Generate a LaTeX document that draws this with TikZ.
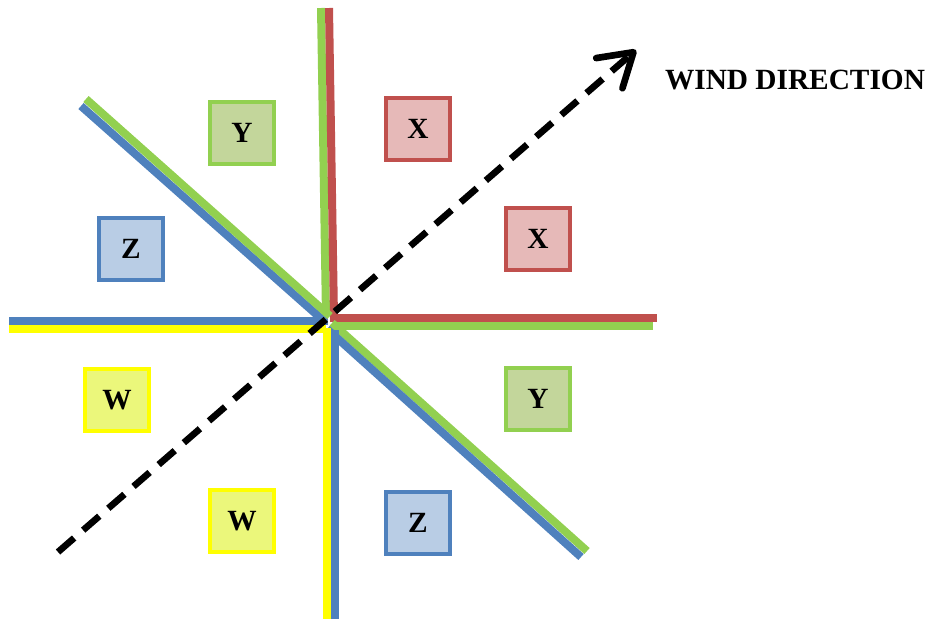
\documentclass[tikz,border=0pt]{standalone}
\usepackage{fontspec}
\setmainfont{Liberation Serif}
\usepackage{tikz}
\usetikzlibrary{arrows.meta, positioning}
\usepackage{xcolor}
\definecolor{lgreen}{HTML}{92D050}
\definecolor{lred}{HTML}{C0504D}
\definecolor{lblue}{HTML}{4F81BD}
\definecolor{lyellow}{HTML}{FFFF00}
\definecolor{fgreen}{HTML}{C3D69B}
\definecolor{fred}{HTML}{E6B9B8}
\definecolor{fblue}{HTML}{B9CDE5}
\definecolor{fyellow}{HTML}{EBF77B}
\tikzstyle{sector} = [line width=6pt]
\tikzstyle{zonebox} = [rectangle, line width=3pt, minimum width=48pt, minimum height=47pt, inner sep=0pt, font=\fontsize{22}{26}\selectfont\bfseries]

\begin{document}
\begin{tikzpicture}[x=0.75pt, y=-0.75pt]
    \useasboundingbox (0,0) rectangle (931,619);

    % Line end points
    \coordinate (gtop) at (321,8);    \coordinate (gtopc) at (326,316);
    \coordinate (rtop) at (329,8);    \coordinate (rtopc) at (334,318);
    \coordinate (rright) at (657,318); \coordinate (rrightc) at (330,318);
    \coordinate (gright) at (653,326); \coordinate (grightc) at (334,326);
    \coordinate (ybot) at (327,619);  \coordinate (ybotc) at (327,328);
    \coordinate (bbot) at (335,619);  \coordinate (bbotc) at (335,330);
    \coordinate (bleft) at (9,321);   \coordinate (bleftc) at (328,321);
    \coordinate (yleft) at (9,329);   \coordinate (yleftc) at (326,329);
    \coordinate (gul) at (86,99);     \coordinate (gulc) at (330,316);
    \coordinate (bul) at (81,106);    \coordinate (bulc) at (325,322);
    \coordinate (glr) at (587,551);   \coordinate (glrc) at (332,323);
    \coordinate (blr) at (581,557);   \coordinate (blrc) at (327,329);

    % Sector boundaries
    \draw [sector, lgreen] (gtop) -- (gtopc);
    \draw [sector, lred] (rtop) -- (rtopc);
    \draw [sector, lred] (rrightc) -- (rright);
    \draw [sector, lgreen] (grightc) -- (gright);
    \draw [sector, lgreen] (glrc) -- (glr);
    \draw [sector, lblue] (blrc) -- (blr);
    \draw [sector, lyellow] (ybotc) -- (ybot);
    \draw [sector, lblue] (bbotc) -- (bbot);
    \draw [sector, lblue] (bleft) -- (bleftc);
    \draw [sector, lyellow] (yleft) -- (yleftc);
    \draw [sector, lblue] (bul) -- (bulc);
    \draw [sector, lgreen] (gul) -- (gulc);

    % Zone boxes
    \node (y1) [zonebox, draw=lgreen, fill=fgreen] at (242,133) {Y};
    \node (x1) [zonebox, draw=lred, fill=fred] at (418,129) {X};
    \node (z1) [zonebox, draw=lblue, fill=fblue] at (131,249) {Z};
    \node (x2) [zonebox, draw=lred, fill=fred] at (538,239) {X};
    \node (w1) [zonebox, draw=lyellow, fill=fyellow] at (117,400) {W};
    \node (y2) [zonebox, draw=lgreen, fill=fgreen] at (538,399) {Y};
    \node (w2) [zonebox, draw=lyellow, fill=fyellow] at (242,521) {W};
    \node (z2) [zonebox, draw=lblue, fill=fblue] at (418,523) {Z};

    % Wind arrow
    \coordinate (wstart) at (58,552);
    \coordinate (wend) at (636,50);
    \draw [line width=5pt, dash pattern=on 16pt off 9pt, -{Straight Barb[length=24pt, width=30pt, round]}] (wstart) -- (wend);
    \node (wind) [font=\fontsize{22}{26}\selectfont\bfseries] at (795,80) {WIND DIRECTION};
\end{tikzpicture}
\end{document}
